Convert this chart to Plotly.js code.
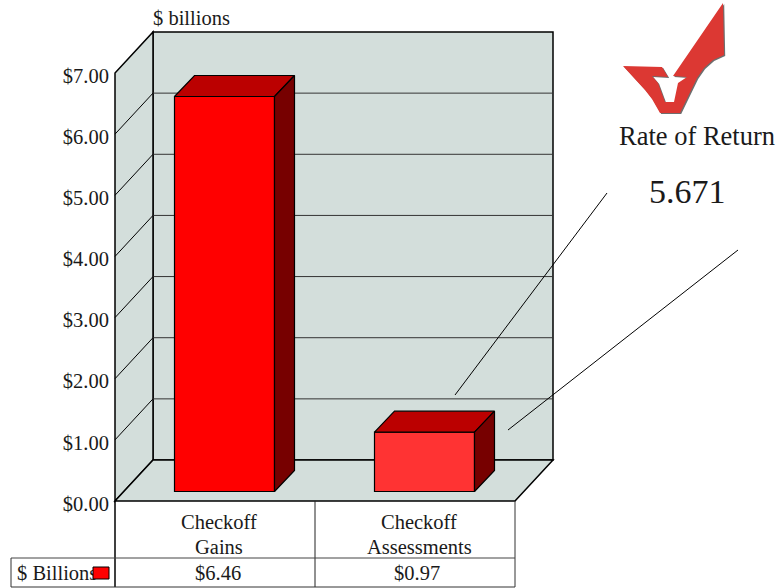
<!DOCTYPE html>
<html><head><meta charset="utf-8">
<script src="https://cdn.plot.ly/plotly-3.0.0.min.js"></script>
<style>html,body{margin:0;padding:0;background:#fff}</style></head>
<body><div id="chart" style="width:783px;height:588px"></div>
<script>
const categories = ["Checkoff<br>Gains", "Checkoff<br>Assessments"];
const billions = [6.46, 0.97];
const barColors = ["#ff0000", "#ff3333"];
const yTicks = [0,1,2,3,4,5,6,7];
const seriesName = "$ Billions";
const rateLabel = "Rate of Return";
const rateValue = "5.671";
const unitLabel = "$ billions";

const FONT = '"Liberation Serif","Times New Roman",serif';
const TEXT = "#1a1a1a";
const L=115,B=501, W=783,H=588;
const pxPerCat=200, pxPerUsd=428/7;
const ux=p=>(p-L)/pxPerCat-0.5, uy=p=>(B-p)/pxPerUsd;
const px=p=>p/W, py=p=>1-p/H;
const fmt=v=>"$"+v.toFixed(2);

const wallDx=38/pxPerCat, wallDy=41/pxPerUsd;
const barDx=20/pxPerCat, barDy=21/pxPerUsd;
const inset=9.5/pxPerCat, insetY=9.5/pxPerUsd, barW=0.5;
const labelDrop=2.5/pxPerUsd;

const wall="#d3dedb";
function poly(pts,fill,lw,lc,layer){
  const d=pts.map((q,i)=>(i?"L":"M")+q[0]+","+q[1]).join(" ")+" Z";
  return {type:"path",xref:"x",yref:"y",path:d,fillcolor:fill,line:{color:lc||"#000",width:lw},layer:layer||"below"};
}
const x0=-0.5, xEnd=1.5, yTop=7;
const shapes=[
  poly([[x0+wallDx,wallDy],[xEnd+wallDx,wallDy],[xEnd+wallDx,yTop+wallDy],[x0+wallDx,yTop+wallDy]],wall,1.5),
  poly([[x0,0],[x0+wallDx,wallDy],[x0+wallDx,yTop+wallDy],[x0,yTop]],wall,1.5),
  poly([[x0,0],[xEnd,0],[xEnd+wallDx,wallDy],[x0+wallDx,wallDy]],wall,1.5)
];
yTicks.slice(1,-1).forEach(t=>{
  shapes.push({type:"line",xref:"x",yref:"y",x0:x0+wallDx,x1:xEnd+wallDx,y0:t+wallDy,y1:t+wallDy,line:{color:"#333",width:1},layer:"below"});
  shapes.push({type:"line",xref:"x",yref:"y",x0:x0,x1:x0+wallDx,y0:t,y1:t+wallDy,line:{color:"#000",width:1},layer:"below"});
});
function pl(a,b,c,d,w,col){shapes.push({type:"line",xref:"paper",yref:"paper",x0:px(a),y0:py(b),x1:px(c),y1:py(d),line:{color:col||"#000",width:w||1}});}
pl(115,501,115,587,1.5); pl(315,501,315,587,1,"#222"); pl(515,501,515,587,1,"#333");
pl(11,558,515,558,1,"#444"); pl(11,587,515,587,1,"#333"); pl(11,558,11,587,1,"#333");
pl(607,193,455,395,1); pl(738,250,508,430,1);
shapes.push({type:"rect",xref:"paper",yref:"paper",x0:px(93),x1:px(109),y0:py(567),y1:py(579),fillcolor:barColors[0],line:{color:"#000",width:1},layer:"above"});
const check=[[623,66],[662,67],[668,77],[652,76],[658,83],[665,102],[674,102],[678,83],[687,77],[673,76],[723,3],[724,55],[713,60],[704,68],[697,78],[680,113],[660,113],[652,99],[645,90]];
function checkPath(dx,dy){return check.map((q,i)=>(i?"L":"M")+px(q[0]+dx)+","+py(q[1]+dy)).join(" ")+" Z";}
shapes.push({type:"path",xref:"paper",yref:"paper",path:checkPath(1.2,1),fillcolor:"#6e6e6e",line:{width:0}});
shapes.push({type:"path",xref:"paper",yref:"paper",path:checkPath(0,0),fillcolor:"#dc3833",line:{width:0}});

const xs=billions.map((_,i)=>i+inset);
const traces=[{
  type:"bar",x:xs,y:billions,base:billions.map(()=>insetY),width:barW,
  marker:{color:barColors,line:{color:"#000",width:1.2}},hoverinfo:"skip",showlegend:false
}];
billions.forEach((v,i)=>{
  const a=xs[i]-barW/2,b=xs[i]+barW/2,lo=insetY,hi=insetY+v;
  traces.push({type:"scatter",mode:"lines",x:[a,b,b+barDx,a+barDx,a],y:[hi,hi,hi+barDy,hi+barDy,hi],fill:"toself",fillcolor:"#bb0000",line:{color:"#000",width:1.2},hoverinfo:"skip",showlegend:false});
  traces.push({type:"scatter",mode:"lines",x:[b,b+barDx,b+barDx,b,b],y:[lo,lo+barDy,hi+barDy,hi,lo],fill:"toself",fillcolor:"#770000",line:{color:"#000",width:1.2},hoverinfo:"skip",showlegend:false});
});
traces.push({type:"scatter",mode:"text",x:[ux(17)],y:[uy(575)],text:[seriesName],textposition:"middle right",cliponaxis:false,
  textfont:{family:FONT,size:20.5,color:TEXT},hoverinfo:"skip",showlegend:false});

function note(text,cx,cy,size){
  return {text:text,xref:"paper",yref:"paper",x:px(cx),y:py(cy),xanchor:"center",yanchor:"middle",showarrow:false,
    font:{family:FONT,size:size,color:TEXT},align:"center"};
}
const annotations=[
  note(unitLabel,191,18,20.5),
  note(rateLabel,697,136,26.5),
  note(rateValue,687,192,34)
];
categories.forEach((c,i)=>{
  c.split("<br>").forEach((line,j)=>annotations.push(note(line,219+i*200,522+j*24.5,20.5)));
  annotations.push(note(fmt(billions[i]),(i?417:218),573,20.5));
});

Plotly.newPlot("chart",traces,{
  width:W,height:H,margin:{l:0,t:0,r:0,b:0,pad:0},
  paper_bgcolor:"#fff",plot_bgcolor:"rgba(0,0,0,0)",showlegend:false,bargap:0,
  xaxis:{range:[ux(0),ux(W)],showgrid:false,zeroline:false,showticklabels:false,ticks:"",fixedrange:true},
  yaxis:{range:[uy(H),uy(0)],anchor:"free",position:(L-2)/W,tickvals:yTicks.map(t=>t-labelDrop),ticktext:yTicks.map(fmt),showgrid:false,zeroline:false,
    ticks:"outside",ticklen:0,tickwidth:0,tickfont:{family:FONT,size:20.5,color:TEXT},fixedrange:true},
  shapes:shapes,annotations:annotations
},{displayModeBar:false,staticPlot:true});
</script></body></html>
